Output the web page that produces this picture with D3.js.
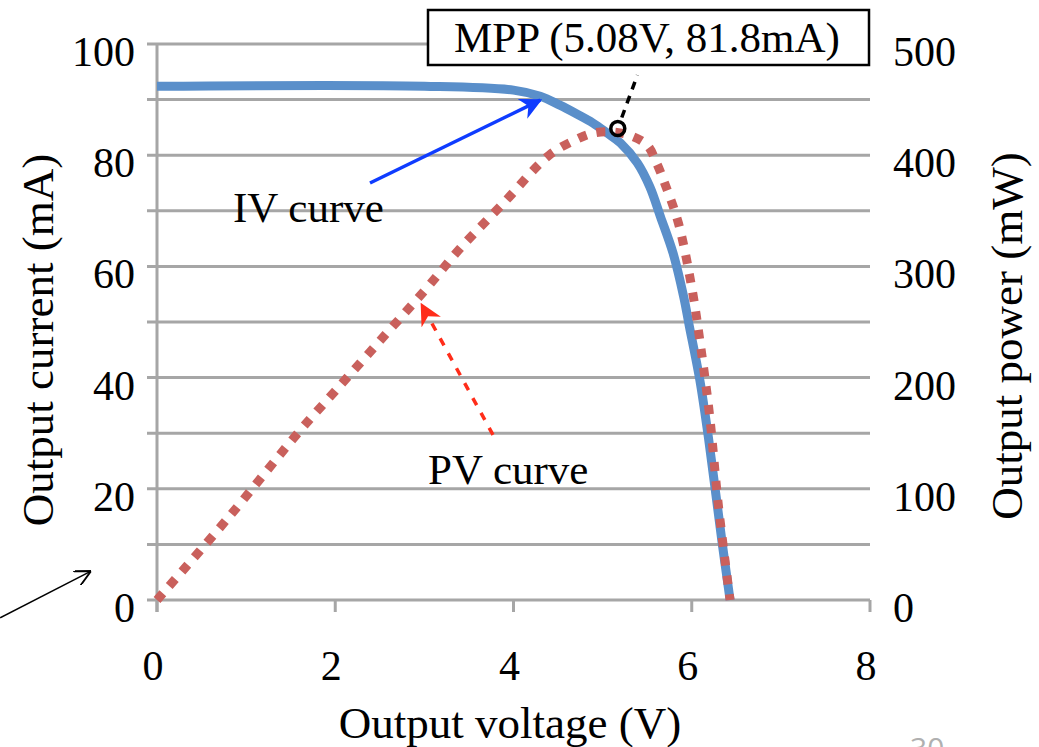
<!DOCTYPE html>
<html>
<head>
<meta charset="utf-8">
<script src="https://cdn.jsdelivr.net/npm/d3@7"></script>
<style>
  body { margin: 0; background: #fff; }
  text { font-family: "Liberation Serif", "DejaVu Serif", serif; fill: #000; }
</style>
</head>
<body>
<div id="chart"></div>
<script>
// ============ DATA ============
// IV curve: output voltage (V) vs output current (mA)
const ivVoltage = [0, 3.0, 4.0, 4.3, 4.52, 4.7, 4.89, 5.05, 5.2, 5.39, 5.53, 5.65, 5.79, 5.91, 5.97, 6.09, 6.18, 6.26, 6.34, 6.43];
const ivCurrent = [92.4, 92.4, 91.7, 90.6, 89.0, 87.5, 85.8, 84.0, 82.2, 78.6, 74.3, 68.9, 62.4, 54.5, 49.5, 39.6, 30.0, 20.3, 10.4, 0];

// PV curve: output voltage (V) vs output power (mW)
const pvVoltage = [0, 0.8, 1.6, 2.0, 2.5, 3.0, 3.4, 3.9, 4.4, 4.7, 4.9, 5.1, 5.3, 5.5, 5.6, 5.7, 5.85, 6.0, 6.1, 6.2, 6.3, 6.43];
const pvPower = [0, 74, 152, 188, 233, 278, 316, 358, 400, 414, 420, 421, 418, 409, 394, 374, 339, 281, 228, 166, 84, 0];

// Maximum power point marker (V, mW)
const mppPoint = [5.17, 424];
const mppLabel = "MPP (5.08V, 81.8mA)";

// Tick labels
const xTicks = [0, 2, 4, 6, 8];
const yLeftTicks = [0, 20, 40, 60, 80, 100];
const yRightTicks = [0, 100, 200, 300, 400, 500];
const gridValues = [0, 10, 20, 30, 40, 50, 60, 70, 80, 90, 100];

// ============ LAYOUT ============
const W = 1039, H = 747;
const margin = {top: 44, right: 169, bottom: 147, left: 157};
const width = W - margin.left - margin.right;
const height = H - margin.top - margin.bottom;

const svg = d3.select("#chart")
    .append("svg")
    .attr("width", W)
    .attr("height", H);

const defs = svg.append("defs");

// filled notched arrowheads
function addArrow(id, color, size) {
    defs.append("marker")
        .attr("id", id)
        .attr("viewBox", "0 0 10 10")
        .attr("refX", 9)
        .attr("refY", 5)
        .attr("markerUnits", "userSpaceOnUse")
        .attr("markerWidth", size)
        .attr("markerHeight", size)
        .attr("orient", "auto")
        .append("path")
        .attr("d", "M0,0 L10,5 L0,10 L3,5 Z")
        .attr("fill", color);
}
addArrow("arrowBlue", "#0f3cff", 22);
addArrow("arrowRed", "#ff2d1a", 22);

// open chevron for the black pointer
defs.append("marker")
    .attr("id", "arrowOpen")
    .attr("viewBox", "0 0 10 10")
    .attr("refX", 10)
    .attr("refY", 5)
    .attr("markerUnits", "userSpaceOnUse")
    .attr("markerWidth", 16)
    .attr("markerHeight", 16)
    .attr("orient", "auto")
    .append("path")
    .attr("d", "M0,0 L10,5 L0,10")
    .attr("fill", "none")
    .attr("stroke", "#000")
    .attr("stroke-width", 1.2);

const g = svg.append("g")
    .attr("transform", `translate(${margin.left},${margin.top})`);

// ============ SCALES ============
const x = d3.scaleLinear().domain([0, 8]).range([0, width]);
const yI = d3.scaleLinear().domain([0, 100]).range([height, 0]);
const yP = d3.scaleLinear().domain([0, 500]).range([height, 0]);

const gridColor = "#a6a6a6";

// Horizontal gridlines (extend left as ticks)
g.selectAll(".grid")
    .data(gridValues)
    .enter()
    .append("line")
    .attr("x1", -10)
    .attr("x2", width)
    .attr("y1", d => yI(d))
    .attr("y2", d => yI(d))
    .attr("stroke", gridColor)
    .attr("stroke-width", 3);

// Left vertical axis line
g.append("line")
    .attr("x1", 0).attr("x2", 0)
    .attr("y1", 0).attr("y2", height + 12)
    .attr("stroke", gridColor)
    .attr("stroke-width", 3);

// Bottom ticks
g.selectAll(".xtick")
    .data(xTicks)
    .enter()
    .append("line")
    .attr("x1", d => x(d)).attr("x2", d => x(d))
    .attr("y1", height).attr("y2", height + 12)
    .attr("stroke", gridColor)
    .attr("stroke-width", 3);

// Tick labels
g.selectAll(".xlabel")
    .data(xTicks)
    .enter()
    .append("text")
    .attr("x", d => x(d) - 4)
    .attr("y", height + 80)
    .attr("text-anchor", "middle")
    .style("font-size", "42px")
    .text(d => d);

g.selectAll(".ylabel")
    .data(yLeftTicks)
    .enter()
    .append("text")
    .attr("x", -22)
    .attr("y", d => yI(d) + 22)
    .attr("text-anchor", "end")
    .style("font-size", "42px")
    .text(d => d);

g.selectAll(".y2label")
    .data(yRightTicks)
    .enter()
    .append("text")
    .attr("x", width + 23)
    .attr("y", d => yP(d) + 22)
    .attr("text-anchor", "start")
    .style("font-size", "42px")
    .text(d => d);

// Axis titles
svg.append("text")
    .attr("x", 510)
    .attr("y", 738)
    .attr("text-anchor", "middle")
    .style("font-size", "45px")
    .text("Output voltage (V)");

svg.append("text")
    .attr("transform", "rotate(-90)")
    .attr("x", -340)
    .attr("y", 53)
    .attr("text-anchor", "middle")
    .style("font-size", "45px")
    .text("Output current (mA)");

svg.append("text")
    .attr("transform", "rotate(-90)")
    .attr("x", -336)
    .attr("y", 1022)
    .attr("text-anchor", "middle")
    .style("font-size", "45px")
    .text("Output power (mW)");

// ============ CURVES ============
const ivData = ivVoltage.map((v, i) => ({v: v, val: ivCurrent[i]}));
const pvData = pvVoltage.map((v, i) => ({v: v, val: pvPower[i]}));

const ivLine = d3.line()
    .x(d => x(d.v))
    .y(d => yI(d.val))
    .curve(d3.curveCatmullRom.alpha(0.5));

const pvLine = d3.line()
    .x(d => x(d.v))
    .y(d => yP(d.val))
    .curve(d3.curveCatmullRom.alpha(0.5));

g.append("path")
    .datum(ivData)
    .attr("fill", "none")
    .attr("stroke", "#5a8fca")
    .attr("stroke-width", 9)
    .attr("d", ivLine);

g.append("path")
    .datum(pvData)
    .attr("fill", "none")
    .attr("stroke", "#c9605c")
    .attr("stroke-width", 9)
    .attr("stroke-dasharray", "9,10")
    .attr("d", pvLine);

// ============ ANNOTATIONS ============
// MPP leader line and marker
g.append("line")
    .attr("x1", x(mppPoint[0]) + 4)
    .attr("y1", yP(mppPoint[1]) - 11)
    .attr("x2", x(5.39))
    .attr("y2", yP(472))
    .attr("stroke", "#000")
    .attr("stroke-width", 3.5)
    .attr("stroke-dasharray", "8,7");

g.append("circle")
    .attr("cx", x(mppPoint[0]))
    .attr("cy", yP(mppPoint[1]))
    .attr("r", 7)
    .attr("fill", "none")
    .attr("stroke", "#000")
    .attr("stroke-width", 3.5);

// MPP label box
const box = svg.append("g");
box.append("rect")
    .attr("x", 428)
    .attr("y", 10)
    .attr("width", 441)
    .attr("height", 55)
    .attr("fill", "#fff")
    .attr("stroke", "#000")
    .attr("stroke-width", 2.5);
box.append("text")
    .attr("x", 647)
    .attr("y", 52)
    .attr("text-anchor", "middle")
    .style("font-size", "43px")
    .text(mppLabel);

// IV curve label and arrow
g.append("line")
    .attr("x1", x(2.39)).attr("y1", yI(75.0))
    .attr("x2", x(4.30)).attr("y2", yI(89.9))
    .attr("stroke", "#0f3cff")
    .attr("stroke-width", 3.5)
    .attr("marker-end", "url(#arrowBlue)");

svg.append("text")
    .attr("x", 233)
    .attr("y", 222)
    .style("font-size", "43px")
    .text("IV curve");

// PV curve label and dashed arrow
g.append("line")
    .attr("x1", x(3.77)).attr("y1", yI(29.7))
    .attr("x2", x(2.97)).attr("y2", yI(53.1))
    .attr("stroke", "#ff2d1a")
    .attr("stroke-width", 3.5)
    .attr("stroke-dasharray", "8,9")
    .attr("marker-end", "url(#arrowRed)");

svg.append("text")
    .attr("x", 428)
    .attr("y", 484)
    .style("font-size", "43px")
    .text("PV curve");

// Black pointer arrow at lower left
g.append("line")
    .attr("x1", x(-1.76)).attr("y1", yI(-3.2))
    .attr("x2", x(-0.74)).attr("y2", yI(5.2))
    .attr("stroke", "#000")
    .attr("stroke-width", 1.5)
    .attr("marker-end", "url(#arrowOpen)");

// Slide page number (cut off at bottom, as in the source slide)
svg.append("text")
    .attr("x", 910)
    .attr("y", 759)
    .style("font-family", "Open Sans, sans-serif")
    .style("font-size", "30px")
    .style("fill", "#b0b0b0")
    .text("30");
</script>
</body>
</html>
